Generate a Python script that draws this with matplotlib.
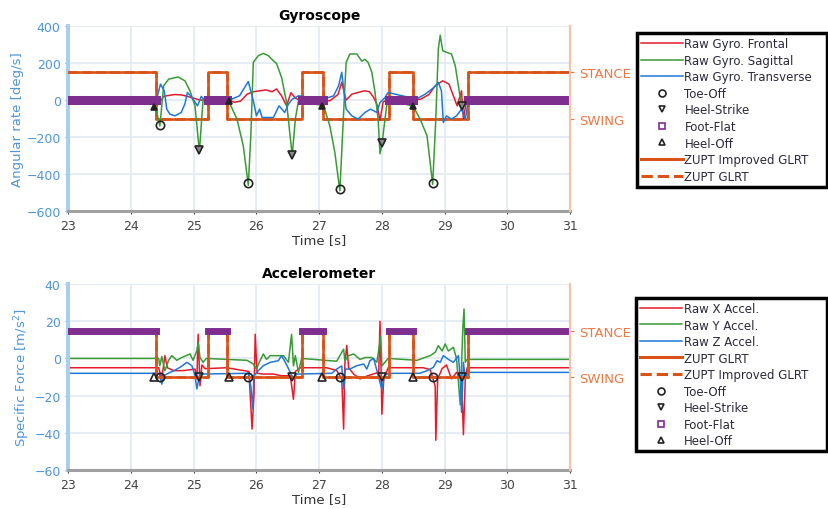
import numpy as np
import matplotlib.pyplot as plt
from matplotlib.lines import Line2D

plt.rcParams['font.family'] = 'DejaVu Sans'

# Colores
RED = '#e8192c'
GREEN = '#3a9a35'
BLUE = '#1f78d8'
ORANGE = '#d95319'
PURPLE = '#7e2f8e'
LBLUE = '#4f95d6'

# Fases de la marcha (ZUPT): tiempos de transicion y estado (1 = apoyo)
zupt_t = [23.0, 24.40, 25.22, 25.53, 26.73, 27.06, 28.12, 28.50, 29.37, 31.0]
zupt_state = [1, 0, 1, 0, 1, 0, 1, 0, 1]

# Eventos de la marcha
toe_off_t = [24.46, 25.87, 27.33, 28.81]
heel_strike_t = [25.09, 26.57, 28.00, 29.27]
heel_off_t = [24.37, 25.56, 27.05, 28.49]
toe_off_gyro = [-135, -450, -480, -450]
heel_strike_gyro = [-270, -297, -234, -31]
heel_off_gyro = [-35, -5, -30, -34]

# Giroscopio
sag_t = [23.0, 24.38, 24.46, 24.52, 24.60, 24.75, 24.86, 24.94, 25.02, 25.09, 25.13, 25.15,
         25.55, 25.69, 25.79, 25.87, 25.91, 25.95, 26.03, 26.11, 26.19, 26.27, 26.32, 26.40,
         26.48, 26.57, 26.62, 26.67, 27.07, 27.17, 27.25, 27.33, 27.39, 27.43, 27.49, 27.60,
         27.68, 27.73, 27.78, 27.84, 27.89, 27.94, 27.97, 28.00, 28.05, 28.09, 28.50, 28.61,
         28.72, 28.81, 28.86, 28.90, 28.93, 28.97, 29.03, 29.11, 29.17, 29.22, 29.27, 29.33, 31.0]
sag_v = [0, -22, -140, 77, 113, 125, 104, 50, -31, -280, -85, 5,
         0, -103, -247, -460, -193, 204, 240, 252, 240, 212, 198, 123,
         -12, -300, -103, -4, -30, -139, -283, -490, -67, 204, 249, 249,
         210, 220, 204, 150, 42, -103, -290, -240, -103, 5, -34, -103,
         -193, -455, -103, 276, 350, 267, 258, 249, 185, 77, -31, 0, 0]

fro_t = [23.0, 24.40, 24.46, 24.52, 24.60, 24.70, 24.80, 24.90, 25.00, 25.10, 25.55, 25.65,
         25.75, 25.85, 25.95, 26.05, 26.15, 26.25, 26.32, 26.40, 26.48, 26.55, 26.62, 26.70,
         27.07, 27.17, 27.30, 27.36, 27.43, 27.52, 27.62, 27.72, 27.80, 27.87, 27.92, 27.97,
         28.02, 28.10, 28.52, 28.62, 28.75, 28.85, 28.97, 29.07, 29.14, 29.20, 29.27, 29.30,
         29.35, 31.0]
fro_v = [0, 0, -10, 20, 25, 30, 28, 20, 10, 0, 0, -12,
         -5, 32, 45, 50, 55, 45, 60, 23, -31, 40, 10, 0,
         0, -4, 30, 96, 0, 32, 41, 50, 45, 14, -22, -110,
         -10, 5, 0, 5, 30, 77, 104, 86, 23, -31, 50, -103,
         0, 0]

tra_t = [23.0, 24.40, 24.47, 24.53, 24.57, 24.62, 24.70, 24.80, 24.86, 24.90, 24.95, 25.06,
         25.12, 25.16, 25.57, 25.73, 25.87, 25.95, 26.00, 26.05, 26.09, 26.27, 26.36, 26.45,
         26.51, 26.57, 26.67, 27.07, 27.23, 27.31, 27.36, 27.39, 27.43, 27.52, 27.62, 27.73,
         27.82, 27.92, 27.97, 28.05, 28.10, 28.55, 28.69, 28.83, 28.90, 28.95, 28.98, 29.03,
         29.11, 29.19, 29.27, 29.33, 29.38, 31.0]
tra_v = [0, -4, 86, 50, -49, -76, -85, -67, -20, 41, 23, -31,
         20, 5, 0, 23, 100, -4, -85, -49, -94, -94, -31, -67,
         -22, 5, 23, 5, 23, 77, 150, 60, -49, -85, -103, -67,
         -49, -67, -13, 14, 41, 5, 32, 68, 96, 50, -121, -85,
         -103, -85, -49, -103, 0, 0]

# Acelerometro
ax_t = [23.0, 24.44, 24.49, 24.54, 24.58, 24.68, 24.85, 25.02, 25.05, 25.07, 25.10, 25.13,
        25.18, 25.53, 25.70, 25.88, 25.93, 25.96, 25.98, 26.01, 26.11, 26.27, 26.40, 26.54,
        26.59, 26.62, 26.70, 27.12, 27.28, 27.36, 27.39, 27.41, 27.44, 27.47, 27.55, 27.65,
        27.76, 27.86, 27.95, 27.97, 27.99, 28.00, 28.03, 28.10, 28.56, 28.66, 28.77, 28.85,
        28.86, 28.89, 28.96, 29.03, 29.11, 29.19, 29.27, 29.30, 29.33, 29.36, 31.0]
ax_v = [-5, -5, -11, 1.5, -5, -6.6, -6.5, -5.7, -11, 13, -14.7, -3.5,
        -5.5, -5, -6, -7, -38, -20, 13, -8, -8.4, -8.4, -9.3, -9.3,
        -22, -7, -5, -5, -6.5, -11, -38, -3, 7, -5, -8.4, -11,
        -9.5, -8.4, -7.5, 20, -11, -30, -11, -5, -5, -5, -6, -14.7,
        -44, -11, -5.5, -3.5, -11, -7.5, -11, -41, -11, -5, -5]

ay_t = [23.0, 24.44, 24.46, 24.49, 24.51, 24.54, 24.60, 24.65, 24.73, 24.81, 24.94, 24.99,
        25.05, 25.07, 25.10, 25.15, 25.20, 25.85, 25.95, 26.00, 26.06, 26.11, 26.16, 26.22,
        26.43, 26.51, 26.56, 26.59, 26.62, 26.67, 26.72, 27.28, 27.33, 27.39, 27.41, 27.47,
        27.55, 27.65, 27.74, 27.84, 27.92, 27.96, 27.98, 28.00, 28.05, 28.10, 28.56, 28.77,
        28.85, 28.90, 28.96, 29.01, 29.06, 29.14, 29.19, 29.25, 29.27, 29.29, 29.31, 29.33,
        29.36, 31.0]
ay_v = [0, 0, -3.9, 1, -2, -6.6, -1, 1.5, -1, 0.5, 2.4, -1,
        4.2, 8.6, 0.5, -2.1, 0, -1, -3, -5.7, -1, 2.4, -0.5, 1.5,
        1.5, -2.1, 13, -4, 1.5, -7.5, 0, -1.5, 1.5, 5, -1.2, 1.5,
        2.4, -0.5, 0.5, 0.5, -2, 7, 12, -4, -2, 0, -1, 1.5,
        3.3, 6.9, 4, 7.8, 4, 6, 0, -25, -4, 16, 26.6, -2,
        -0.5, -0.5]

az_t = [23.0, 24.44, 24.46, 24.49, 24.52, 24.57, 24.68, 24.78, 24.89, 24.97, 25.02, 25.05,
        25.08, 25.10, 25.87, 25.91, 25.94, 25.96, 26.03, 26.11, 26.22, 26.35, 26.40, 26.46,
        26.54, 26.59, 26.64, 27.20, 27.28, 27.36, 27.39, 27.42, 27.49, 27.60, 27.71, 27.76,
        27.81, 27.87, 27.92, 27.97, 28.00, 28.04, 28.10, 28.60, 28.72, 28.82, 28.88, 28.93,
        28.98, 29.06, 29.14, 29.22, 29.25, 29.27, 29.30, 29.33, 29.37, 31.0]
az_v = [-8, -8, -9.3, -13.8, -9.3, -8.4, -6.6, -4.8, -2.1, -3.9, -9.3, -16.4,
        -11, -8.4, -8, -14.7, -27, -9.3, -6.6, -3.9, -2.1, -1.2, 1.5, -2.1,
        -7.5, -11, -8.4, -8, -5.7, -4, -16.4, -5.7, -5.7, -3.9, -3, -5.7,
        -1.2, 0, -6.5, -12.9, -16.4, -9.3, -8, -8, -6.6, -4.8, -1.2, -2.1,
        1.5, -0.5, -2.1, 1.5, -11, -29, -2.1, -11, -7.5, -7.5]


def style_axes(ax, title, ylabel, ylim, yticks, levels):
    ax.set_xlim(23, 31)
    ax.set_ylim(*ylim)
    ax.set_xticks(range(23, 32))
    ax.set_yticks(yticks)
    ax.grid(color='#e4ebf2', linewidth=1.3)
    ax.set_axisbelow(True)
    ax.set_title(title, fontsize=10, fontweight='bold', pad=5)
    ax.set_xlabel('Time [s]', fontsize=9.5, color='#333333', labelpad=1)
    ax.set_ylabel(ylabel, fontsize=9.5, color=LBLUE, labelpad=2)
    ax.tick_params(axis='x', colors='#444444', labelsize=9, length=2)
    ax.tick_params(axis='y', colors=LBLUE, labelsize=9, length=2)
    ax.spines['left'].set_color('#a8cdee')
    ax.spines['left'].set_linewidth(2.8)
    ax.spines['bottom'].set_color('#a0a0a0')
    ax.spines['bottom'].set_linewidth(2.2)
    ax.spines['top'].set_visible(False)
    ax.spines['right'].set_color('#f5c2aa')
    ax.spines['right'].set_linewidth(1.5)
    r = ax.twinx()
    r.set_ylim(*ylim)
    r.set_yticks(levels)
    r.set_yticklabels(['STANCE', 'SWING'])
    r.tick_params(axis='y', colors='#e97a45', labelsize=9.5, length=3)
    for s in ['left', 'top', 'bottom']:
        r.spines[s].set_visible(False)
    r.spines['right'].set_color('#f5c2aa')
    r.spines['right'].set_linewidth(1.5)


def draw_phases(ax, stance, swing, ff_level, ff_lw, ff_z):
    levels = [swing + s * (stance - swing) for s in zupt_state]
    levels = levels + [levels[-1]]
    ax.step(zupt_t, levels, where='post', color=ORANGE, lw=1.9, ls='--', zorder=3)
    ax.step(zupt_t, levels, where='post', color=ORANGE, lw=1.9, zorder=3)
    for i, s in enumerate(zupt_state):
        if s == 1:
            ax.plot([zupt_t[i], zupt_t[i + 1]], [ff_level, ff_level], color=PURPLE,
                    lw=ff_lw, solid_capstyle='projecting', zorder=ff_z)


fig = plt.figure(figsize=(8.29, 5.10), dpi=100)
ax1 = fig.add_axes([0.0824, 0.584, 0.6052, 0.363])
ax2 = fig.add_axes([0.0824, 0.0765, 0.6052, 0.3645])

# Giroscopio
draw_phases(ax1, 150, -100, 0, 6.5, 4.5)
ax1.plot(fro_t, fro_v, color=RED, lw=1.1, zorder=4)
ax1.plot(sag_t, sag_v, color=GREEN, lw=1.1, zorder=4)
ax1.plot(tra_t, tra_v, color=BLUE, lw=1.1, zorder=4)
ax1.plot(toe_off_t, toe_off_gyro, 'o', mfc='none', mec='#222222', ms=6, mew=1.2, zorder=5)
ax1.plot(heel_strike_t, heel_strike_gyro, 'v', mfc='#888888', mec='#222222', ms=6, mew=1.2, zorder=5)
ax1.plot(heel_off_t, heel_off_gyro, '^', mfc='#222222', mec='#222222', ms=5, mew=1.2, zorder=5)
style_axes(ax1, 'Gyroscope', 'Angular rate [deg/s]', (-600, 400), range(-600, 401, 200), [150, -100])

# Acelerometro
ax2.plot(ax_t, ax_v, color=RED, lw=1.1, zorder=2)
ax2.plot(ay_t, ay_v, color=GREEN, lw=1.1, zorder=2)
ax2.plot(az_t, az_v, color=BLUE, lw=1.1, zorder=2)
draw_phases(ax2, 15, -10, 15, 5, 3.5)
ev_level = -10
ax2.plot(toe_off_t, [ev_level] * len(toe_off_t), 'o', mfc='none', mec='#222222', ms=6, mew=1.2, zorder=5)
ax2.plot(heel_strike_t, [ev_level] * len(heel_strike_t), 'v', mfc='none', mec='#222222', ms=6, mew=1.2, zorder=5)
ax2.plot(heel_off_t, [ev_level] * len(heel_off_t), '^', mfc='none', mec='#222222', ms=6, mew=1.2, zorder=5)
style_axes(ax2, 'Accelerometer', 'Specific Force [m/s$^2$]', (-60, 40), range(-60, 41, 20), [15, -10])

# Leyendas
h_red = Line2D([], [], color=RED, lw=1.1)
h_green = Line2D([], [], color=GREEN, lw=1.1)
h_blue = Line2D([], [], color=BLUE, lw=1.1)
h_toe = Line2D([], [], ls='none', marker='o', mfc='none', mec='#222222', ms=5, mew=1.2)
h_hs = Line2D([], [], ls='none', marker='v', mfc='none', mec='#222222', ms=5, mew=1.2)
h_ff = Line2D([], [], ls='none', marker='s', mfc='none', mec=PURPLE, ms=5, mew=1.2)
h_ho = Line2D([], [], ls='none', marker='^', mfc='none', mec='#222222', ms=5, mew=1.2)
h_solid = Line2D([], [], color=ORANGE, lw=2.2)
h_dash = Line2D([], [], color=ORANGE, lw=2.2, ls='--')

leg_kw = dict(loc='upper left', mode='expand', fontsize=8.5, handlelength=3.6,
              handletextpad=0.1, labelspacing=0.3, borderpad=0.35, borderaxespad=0,
              fancybox=False, edgecolor='black', labelcolor='#2a2a3a')

l1 = fig.legend([h_red, h_green, h_blue, h_toe, h_hs, h_ff, h_ho, h_solid, h_dash],
                ['Raw Gyro. Frontal', 'Raw Gyro. Sagittal', 'Raw Gyro. Transverse', 'Toe-Off',
                 'Heel-Strike', 'Foot-Flat', 'Heel-Off', 'ZUPT Improved GLRT', 'ZUPT GLRT'],
                bbox_to_anchor=(0.768, 0.933, 0.229, 0), **leg_kw)
l2 = fig.legend([h_red, h_green, h_blue, h_solid, h_dash, h_toe, h_hs, h_ff, h_ho],
                ['Raw X Accel.', 'Raw Y Accel.', 'Raw Z Accel.', 'ZUPT GLRT', 'ZUPT Improved GLRT',
                 'Toe-Off', 'Heel-Strike', 'Foot-Flat', 'Heel-Off'],
                bbox_to_anchor=(0.767, 0.414, 0.23, 0), **leg_kw)
for lg in (l1, l2):
    lg.get_frame().set_linewidth(2.5)
    lg.get_frame().set_alpha(1)

fig.savefig('out.png', dpi=100)
